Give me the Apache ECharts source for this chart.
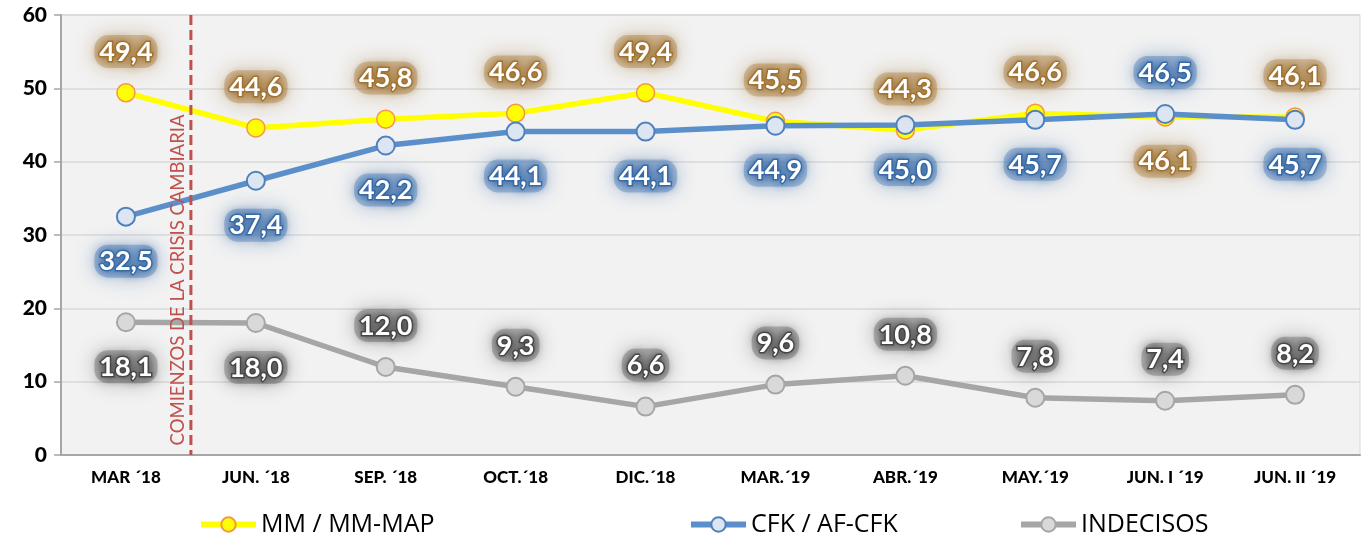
<!DOCTYPE html>
<html>
<head>
<meta charset="utf-8">
<script src="https://cdn.jsdelivr.net/npm/echarts@6/dist/echarts.min.js"></script>
<style>
  html, body { margin: 0; padding: 0; background: #fff; }
  #chart { width: 1371px; height: 534px; }
</style>
</head>
<body>
<div id="chart"></div>
<script>
// datos de la encuesta
const categories = ['MAR ´18', 'JUN. ´18', 'SEP. ´18', 'OCT.´18', 'DIC.´18',
  'MAR.´19', 'ABR.´19', 'MAY.´19', 'JUN. I ´19', 'JUN. II ´19'];
const mmValues = [49.4, 44.6, 45.8, 46.6, 49.4, 45.5, 44.3, 46.6, 46.1, 46.1];
const cfkValues = [32.5, 37.4, 42.2, 44.1, 44.1, 44.9, 45.0, 45.7, 46.5, 45.7];
const indValues = [18.1, 18.0, 12.0, 9.3, 6.6, 9.6, 10.8, 7.8, 7.4, 8.2];
const yTicks = [0, 10, 20, 30, 40, 50, 60];

// indices where the label goes on the other side
const mmFlip = [8];
const cfkFlip = [8];
const indFlip = [0, 1];

const fmt = v => v.toFixed(1).replace('.', ',');

function labelStyle(glow, soft) {
  return {
    show: true,
    color: '#fff',
    fontFamily: 'Lato',
    fontWeight: 'bold',
    fontSize: 27,
    lineHeight: 28,
    padding: [3, 5, 2, 5],
    backgroundColor: soft,
    borderRadius: 14,
    shadowColor: glow,
    shadowBlur: 20,
    textBorderColor: glow,
    textBorderWidth: 3,
    textShadowColor: glow,
    textShadowBlur: 10,
    formatter: p => fmt(p.value)
  };
}

function buildData(values, defaultPos, flip) {
  return values.map((v, i) => {
    const pos = flip.indexOf(i) >= 0 ? (defaultPos === 'top' ? 'bottom' : 'top') : defaultPos;
    return { value: v, label: { position: pos, distance: pos === 'top' ? 15 : 18 } };
  });
}

const chart = echarts.init(document.getElementById('chart'));

const legendText = { fontFamily: 'Open Sans', fontSize: 25, color: '#000' };
const legendBase = { top: 507, itemWidth: 55, itemHeight: 18, textStyle: legendText, lineStyle: { width: 6 } };

chart.setOption({
  animation: false,
  backgroundColor: '#fff',
  grid: {
    left: 61, right: 11, top: 15, bottom: 79,
    show: true, backgroundColor: '#f2f2f2', borderColor: '#d9d9d9', borderWidth: 1
  },
  legend: [
    Object.assign({ data: ['MM / MM-MAP'], left: 193 }, legendBase),
    Object.assign({ data: ['CFK / AF-CFK'], left: 683 }, legendBase),
    Object.assign({ data: ['INDECISOS'], left: 1013 }, legendBase)
  ],
  xAxis: {
    type: 'category',
    data: categories,
    boundaryGap: true,
    axisLine: { lineStyle: { color: '#a6a6a6', width: 2 } },
    axisTick: { length: 8, lineStyle: { color: '#a6a6a6', width: 1.5 } },
    axisLabel: { margin: 14, color: '#000', fontFamily: 'Lato', fontWeight: 900, fontSize: 17 },
    splitLine: { show: false }
  },
  yAxis: {
    type: 'value',
    min: yTicks[0], max: yTicks[yTicks.length - 1], interval: 10,
    axisLine: { show: true, lineStyle: { color: '#a6a6a6', width: 2 } },
    axisTick: { show: true, inside: false, length: 7, lineStyle: { color: '#a6a6a6', width: 1.5 } },
    axisLabel: { margin: 14, color: '#000', fontFamily: 'Lato', fontWeight: 900, fontSize: 21 },
    splitLine: { lineStyle: { color: '#d9d9d9', width: 1.5 } }
  },
  series: [
    {
      name: 'MM / MM-MAP',
      type: 'line',
      data: buildData(mmValues, 'top', mmFlip),
      symbol: 'circle', symbolSize: 18,
      lineStyle: { color: '#ffff00', width: 5.5 },
      itemStyle: { color: '#ffff00', borderColor: '#f79646', borderWidth: 1.5 },
      label: labelStyle('rgba(160,115,50,0.95)', 'rgba(175,130,70,0.4)')
    },
    {
      name: 'CFK / AF-CFK',
      type: 'line',
      data: buildData(cfkValues, 'bottom', cfkFlip),
      symbol: 'circle', symbolSize: 18,
      lineStyle: { color: '#5b8fca', width: 5.5 },
      itemStyle: { color: '#dce6f2', borderColor: '#4f81bd', borderWidth: 2 },
      label: labelStyle('rgba(55,105,165,0.95)', 'rgba(75,125,185,0.4)')
    },
    {
      name: 'INDECISOS',
      type: 'line',
      data: buildData(indValues, 'top', indFlip),
      symbol: 'circle', symbolSize: 18,
      lineStyle: { color: '#a6a6a6', width: 5.5 },
      itemStyle: { color: '#d9d9d9', borderColor: '#a6a6a6', borderWidth: 2 },
      label: labelStyle('rgba(70,70,70,0.95)', 'rgba(90,90,90,0.35)')
    }
  ]
});

// linea de la crisis cambiaria: entre la 1a y 2a categoria
const x0 = chart.convertToPixel({ xAxisIndex: 0 }, 0);
const x1 = chart.convertToPixel({ xAxisIndex: 0 }, 1);
const xm = (x0 + x1) / 2;
const yTop = chart.convertToPixel({ yAxisIndex: 0 }, 60);
const yBot = chart.convertToPixel({ yAxisIndex: 0 }, 0);

chart.setOption({
  graphic: [
    {
      type: 'line', z: 50,
      shape: { x1: xm, y1: yTop, x2: xm, y2: yBot },
      style: { stroke: '#c0504d', lineWidth: 3, lineDash: [10, 5] }
    },
    {
      type: 'text', z: 50,
      x: xm - 13, y: (yTop + yBot) / 2 + 45,
      rotation: Math.PI / 2,
      style: {
        text: 'COMIENZOS DE LA CRISIS CAMBIARIA',
        fill: '#c0504d', font: '18.5px Lato',
        align: 'center', verticalAlign: 'middle'
      }
    }
  ]
});
</script>
</body>
</html>
